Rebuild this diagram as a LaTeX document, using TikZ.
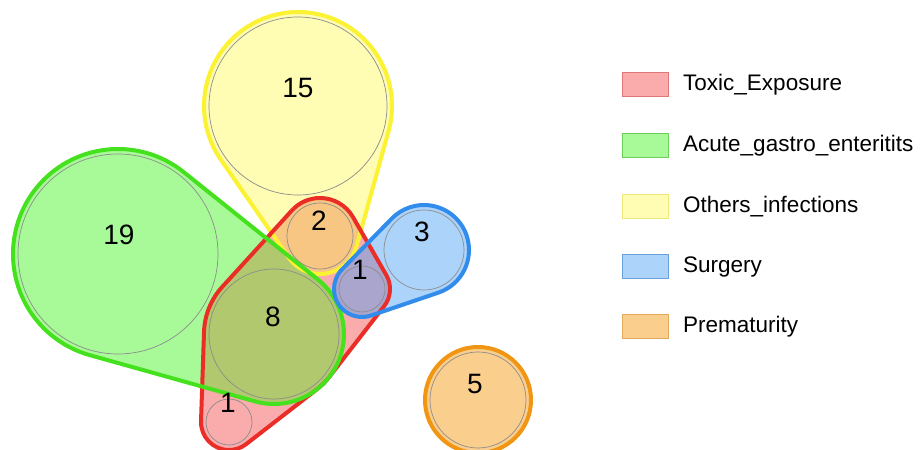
\documentclass[tikz,border=0pt]{standalone}
\usepackage{fontspec}
\setmainfont{Liberation Sans}
\usetikzlibrary{calc}
\definecolor{pinkF}{RGB}{250,172,172}
\definecolor{greenF}{RGB}{168,250,152}
\definecolor{yellowF}{RGB}{255,252,180}
\definecolor{blueF}{RGB}{172,212,250}
\definecolor{orangeF}{RGB}{250,206,140}
\definecolor{oliveF}{RGB}{178,200,110}
\definecolor{peachF}{RGB}{247,198,130}
\definecolor{purpleF}{RGB}{170,165,205}
\definecolor{gyF}{RGB}{205,225,130}
\definecolor{byF}{RGB}{200,228,205}
\definecolor{redL}{RGB}{235,45,40}
\definecolor{greenL}{RGB}{70,225,30}
\definecolor{yellowL}{RGB}{250,242,50}
\definecolor{blueL}{RGB}{50,140,235}
\definecolor{orangeL}{RGB}{240,150,20}
\definecolor{pinkB}{RGB}{222,120,120}
\definecolor{greenB}{RGB}{110,205,90}
\definecolor{yellowB}{RGB}{238,232,120}
\definecolor{blueB}{RGB}{105,160,220}
\definecolor{orangeB}{RGB}{225,170,90}
\tikzset{
  outline/.style={line width=4pt, line join=round},
  greyc/.style={draw=black!45, line width=0.7pt},
  num/.style={font=\fontsize{28}{30}\selectfont, inner sep=0pt},
  legbox/.style={minimum width=46pt, minimum height=24pt, inner sep=0pt, line width=1pt},
  legtext/.style={font=\fontsize{22.5}{25}\selectfont, anchor=west, inner sep=0pt},
}
\begin{document}
\begin{tikzpicture}[x=1pt,y=1pt]
\useasboundingbox (0,0) rectangle (922,450);
% circle centres
\coordinate (A) at (118,196);  % 19
\coordinate (B) at (274,116);  % 8
\coordinate (C) at (229,28);   % 1 bottom
\coordinate (D) at (298,344);  % 15
\coordinate (E) at (320,214);  % 2
\coordinate (F) at (362,161);  % 1 middle
\coordinate (G) at (424,200);  % 3
\coordinate (H) at (478,50);   % 5
\def\hullgreen{($(A)+(51.34:105pt)$) arc[start angle=51.34,end angle=254.36,radius=105pt] -- ($(B)+(-105.64:70pt)$) arc[start angle=-105.64,end angle=51.34,radius=70pt] -- cycle}
\def\hullyellow{($(D)+(-15.52:94pt)$) arc[start angle=-15.52,end angle=214.73,radius=94pt] -- ($(E)+(-145.27:38pt)$) arc[start angle=-145.27,end angle=-15.52,radius=38pt] -- cycle}
\def\hullblue{($(G)+(-71.25:45pt)$) arc[start angle=-71.25,end angle=135.59,radius=45pt] -- ($(F)+(135.59:28pt)$) arc[start angle=135.59,end angle=288.75,radius=28pt] -- cycle}
\def\hullred{($(E)+(137.66:38pt)$) -- ($(B)+(137.66:70pt)$) arc[start angle=137.66,end angle=178.07,radius=70pt] -- ($(C)+(178.07:28pt)$) arc[start angle=178.07,end angle=307.77,radius=28pt] -- ($(B)+(-52.23:70pt)$) arc[start angle=-52.23,end angle=-37.77,radius=70pt] -- ($(F)+(-37.77:28pt)$) arc[start angle=-37.77,end angle=29.89,radius=28pt] -- ($(E)+(29.89:38pt)$) arc[start angle=29.89,end angle=137.66,radius=38pt] -- cycle}
% base fills
\fill[greenF] \hullgreen;
\fill[yellowF] \hullyellow;
\fill[blueF] \hullblue;
\fill[pinkF] \hullred;
\fill[orangeF] (H) circle[radius=53pt];
% overlaps
\begin{scope}\clip \hullgreen; \fill[gyF] \hullyellow;\end{scope}
\begin{scope}\clip \hullblue; \fill[byF] \hullyellow;\end{scope}
\begin{scope}\clip \hullred;
  \fill[oliveF] \hullgreen;
  \fill[peachF] \hullyellow;
  \fill[purpleF] \hullblue;
\end{scope}
% inner circles
\draw[greyc] (A) circle[radius=100pt];
\draw[greyc] (B) circle[radius=65pt];
\draw[greyc] (C) circle[radius=23pt];
\draw[greyc] (D) circle[radius=89pt];
\draw[greyc] (E) circle[radius=33pt];
\draw[greyc] (F) circle[radius=23pt];
\draw[greyc] (G) circle[radius=40pt];
\draw[greyc] (H) circle[radius=48pt];
% outlines
\draw[outline, yellowL] \hullyellow;
\draw[outline, redL] \hullred;
\draw[outline, greenL] \hullgreen;
\draw[outline, blueL] \hullblue;
\draw[outline, orangeL] (H) circle[radius=53pt];
% numbers
\node[num] (n19) at (119,215) {19};
\node[num] (n8)  at (273,133) {8};
\node[num] (n1b) at (228,47)  {1};
\node[num] (n15) at (298,362) {15};
\node[num] (n2)  at (319,229) {2};
\node[num] (n1m) at (360,180) {1};
\node[num] (n3)  at (422,218) {3};
\node[num] (n5)  at (475,66)  {5};
% legend
\node[legbox, fill=pinkF, draw=pinkB]     (k1) at (645,365) {};
\node[legbox, fill=greenF, draw=greenB]   (k2) at (645,304) {};
\node[legbox, fill=yellowF, draw=yellowB] (k3) at (645,243) {};
\node[legbox, fill=blueF, draw=blueB]     (k4) at (645,183) {};
\node[legbox, fill=orangeF, draw=orangeB] (k5) at (645,123) {};
\node[legtext] (t1) at (683,365) {Toxic\_Exposure};
\node[legtext] (t2) at (683,304) {Acute\_gastro\_enteritits};
\node[legtext] (t3) at (683,243) {Others\_infections};
\node[legtext] (t4) at (683,183) {Surgery};
\node[legtext] (t5) at (683,123) {Prematurity};
\end{tikzpicture}
\end{document}
